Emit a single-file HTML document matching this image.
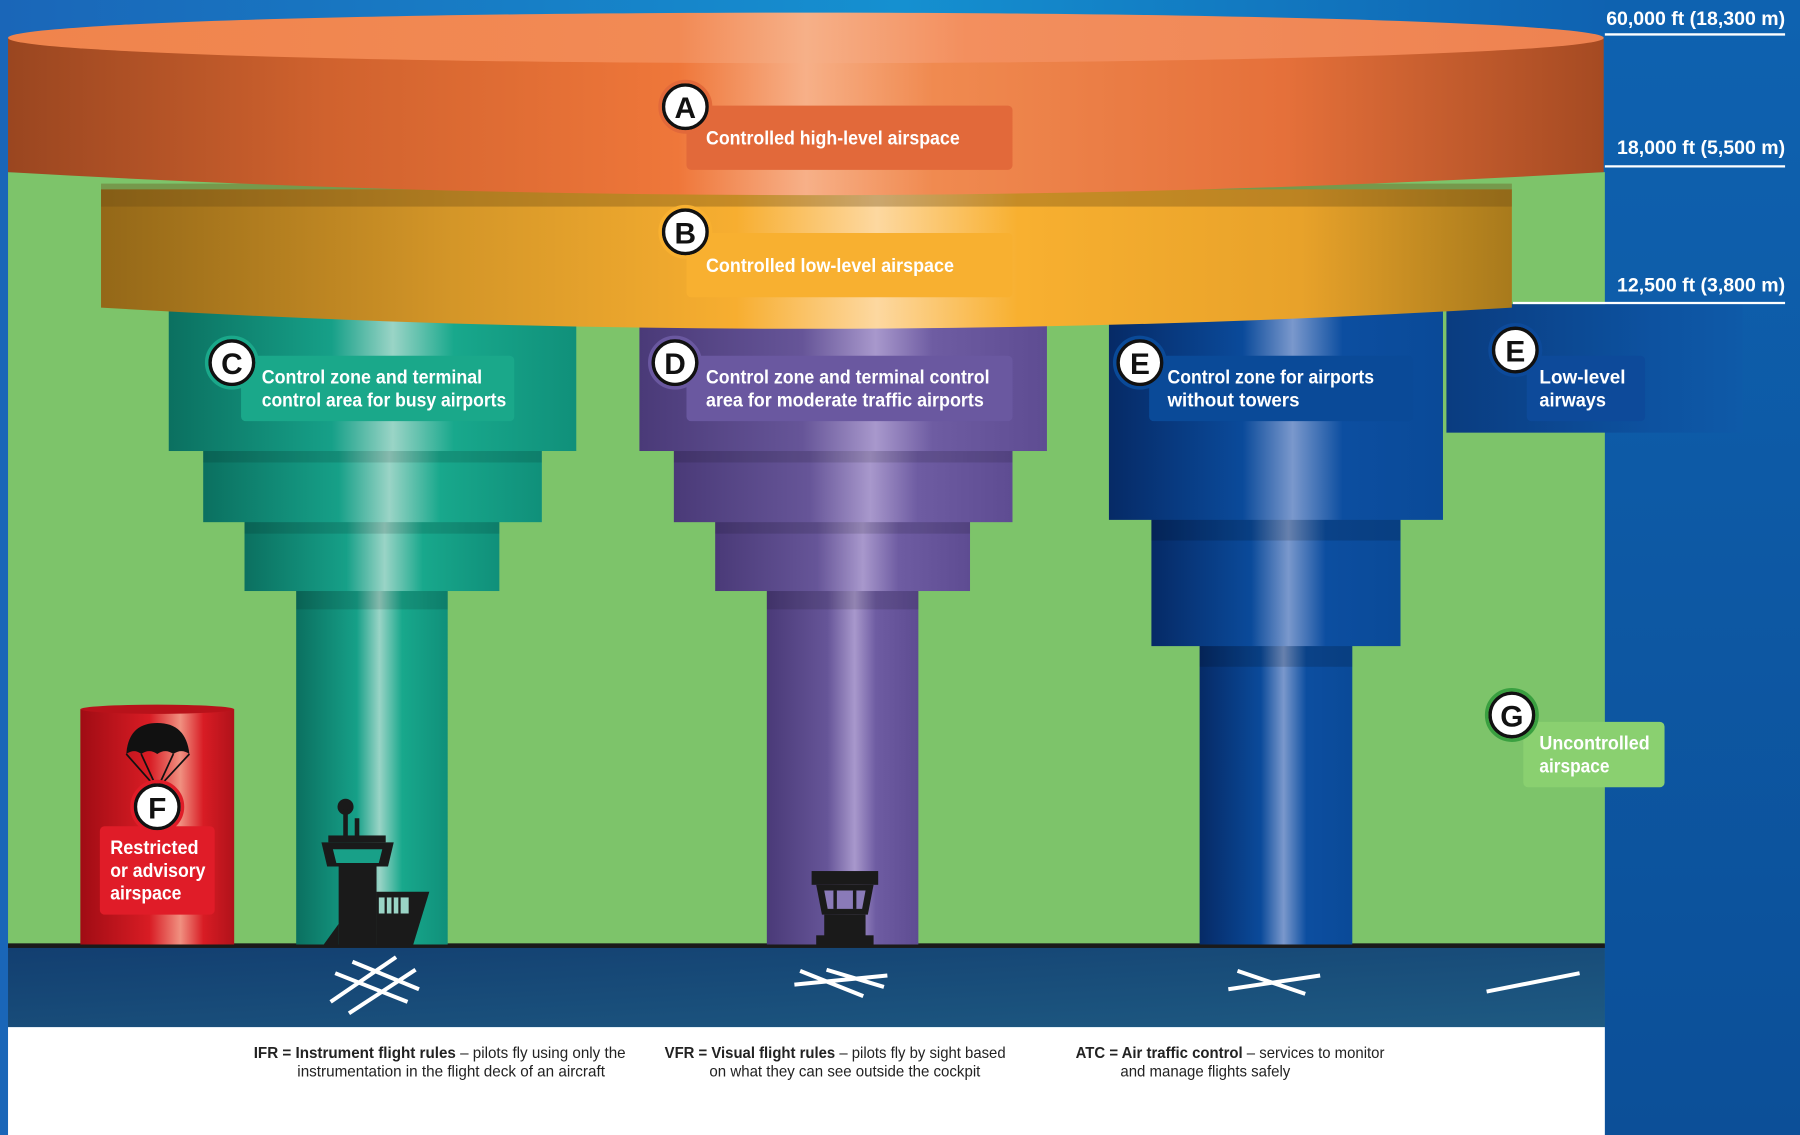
<!DOCTYPE html>
<html><head><meta charset="utf-8"><style>
html,body{margin:0;padding:0;background:#0d55a0;}
svg{display:block}
text{font-family:"Liberation Sans Narrow","Liberation Sans",sans-serif;}
.lb{fill:#fff;font-weight:bold;font-size:17px;}
.cl{font-weight:bold;font-size:26px;fill:#111;text-anchor:middle;}
.lg{font-size:13.5px;fill:#222;}
</style></head><body>
<svg width="1800" height="1135" viewBox="0 0 1568 989" preserveAspectRatio="none" xmlns="http://www.w3.org/2000/svg">
<defs>
<linearGradient id="bg" x1="0" y1="0" x2="1" y2="0"><stop offset="0" stop-color="#1a66b8"/><stop offset="0.5" stop-color="#1590d0"/><stop offset="1" stop-color="#0d55a8"/></linearGradient>
<linearGradient id="rc" x1="0" y1="0" x2="0" y2="1"><stop offset="0" stop-color="#0e62b0"/><stop offset="1" stop-color="#0c4f98"/></linearGradient>
<linearGradient id="oA" x1="0" y1="0" x2="1" y2="0"><stop offset="0" stop-color="#9a4620"/><stop offset="0.2" stop-color="#d0622e"/><stop offset="0.42" stop-color="#ef773a"/><stop offset="0.5" stop-color="#f7b088"/><stop offset="0.58" stop-color="#f08a50"/><stop offset="0.8" stop-color="#e5703a"/><stop offset="1" stop-color="#a54a22"/></linearGradient>
<linearGradient id="oAt" x1="0" y1="0" x2="1" y2="0"><stop offset="0" stop-color="#f0844c"/><stop offset="0.42" stop-color="#f28a55"/><stop offset="0.5" stop-color="#f6b088"/><stop offset="0.6" stop-color="#f38f5e"/><stop offset="1" stop-color="#ee8250"/></linearGradient>
<linearGradient id="yB" x1="0" y1="0" x2="1" y2="0"><stop offset="0" stop-color="#946818"/><stop offset="0.25" stop-color="#d49628"/><stop offset="0.45" stop-color="#f7ae30"/><stop offset="0.55" stop-color="#fdd8a0"/><stop offset="0.65" stop-color="#f8b030"/><stop offset="0.85" stop-color="#e8a22a"/><stop offset="1" stop-color="#a87a1c"/></linearGradient>
<linearGradient id="tC" x1="0" y1="0" x2="1" y2="0"><stop offset="0" stop-color="#0b7060"/><stop offset="0.4" stop-color="#16a088"/><stop offset="0.55" stop-color="#9ad4c6"/><stop offset="0.7" stop-color="#18a88c"/><stop offset="1" stop-color="#10907a"/></linearGradient>
<linearGradient id="pD" x1="0" y1="0" x2="1" y2="0"><stop offset="0" stop-color="#4a3a78"/><stop offset="0.4" stop-color="#665598"/><stop offset="0.58" stop-color="#a898cc"/><stop offset="0.72" stop-color="#6e5ca2"/><stop offset="1" stop-color="#5e4c92"/></linearGradient>
<linearGradient id="bE" x1="0" y1="0" x2="1" y2="0"><stop offset="0" stop-color="#062a66"/><stop offset="0.4" stop-color="#0a4a9a"/><stop offset="0.55" stop-color="#7a98cc"/><stop offset="0.7" stop-color="#0c4ea0"/><stop offset="1" stop-color="#0a4a98"/></linearGradient>
<linearGradient id="bL" x1="0" y1="0" x2="1" y2="0"><stop offset="0" stop-color="#0a3c80"/><stop offset="0.7" stop-color="#0d52a0"/><stop offset="1" stop-color="#0e5aa8"/></linearGradient>
<linearGradient id="rF" x1="0" y1="0" x2="1" y2="0"><stop offset="0" stop-color="#a00c14"/><stop offset="0.45" stop-color="#d81c24"/><stop offset="0.65" stop-color="#f09080"/><stop offset="0.8" stop-color="#d81c24"/><stop offset="1" stop-color="#b0121a"/></linearGradient>
<linearGradient id="gr" x1="0" y1="0" x2="1" y2="1"><stop offset="0" stop-color="#123e70"/><stop offset="1" stop-color="#1e5a82"/></linearGradient>
</defs>
<rect width="1568" height="989" fill="url(#bg)"/>
<rect x="1398" y="0" width="170" height="989" fill="url(#rc)"/>
<rect x="7" y="150" width="1391" height="673" fill="#7dc46a"/>
<rect x="7" y="823" width="1391" height="72" fill="url(#gr)"/>
<rect x="7" y="822" width="1391" height="4" fill="#1a1a1a"/>
<rect x="7" y="895" width="1391" height="94" fill="#fff"/>

<rect x="1260" y="265" width="258" height="112" fill="url(#bL)"/>
<g stroke="#fff" stroke-width="2"><line x1="1398" y1="30" x2="1555" y2="30"/><line x1="1398" y1="145" x2="1555" y2="145"/><line x1="1318" y1="264" x2="1555" y2="264"/></g>
<g class="lb" text-anchor="end" font-size="17"><text x="1555" y="22">60,000 ft (18,300 m)</text><text x="1555" y="134">18,000 ft (5,500 m)</text><text x="1555" y="254">12,500 ft (3,800 m)</text></g>

<g fill="url(#tC)"><rect x="258" y="510" width="132" height="313"/><rect x="213" y="450" width="222" height="65"/><rect x="177" y="390" width="295" height="65"/><rect x="147" y="270" width="355" height="123"/></g>
<g fill="#000" opacity="0.12"><rect x="177" y="393" width="295" height="10"/><rect x="213" y="455" width="222" height="10"/><rect x="258" y="515" width="132" height="16"/></g>
<g fill="url(#pD)"><rect x="668" y="510" width="132" height="313"/><rect x="623" y="450" width="222" height="65"/><rect x="587" y="390" width="295" height="65"/><rect x="557" y="270" width="355" height="123"/></g>
<g fill="#000" opacity="0.12"><rect x="587" y="393" width="295" height="10"/><rect x="623" y="455" width="222" height="10"/><rect x="668" y="515" width="132" height="16"/></g>
<g fill="url(#bE)"><rect x="1045" y="560" width="133" height="263"/><rect x="1003" y="450" width="217" height="113"/><rect x="966" y="265" width="291" height="188"/></g>
<g fill="#000" opacity="0.15"><rect x="1003" y="453" width="217" height="18"/><rect x="1045" y="563" width="133" height="18"/></g>

<path d="M88 165 L1317 165 L1317 268 Q702 305 88 268 Z" fill="url(#yB)"/>
<rect x="88" y="160" width="1229" height="20" fill="#6a4a14" opacity="0.35"/>
<path d="M7 33 L1397 33 L1397 150 Q702 190 7 150 Z" fill="url(#oA)"/>
<ellipse cx="702" cy="33" rx="695" ry="22" fill="url(#oAt)"/>

<rect x="70" y="618" width="134" height="205" fill="url(#rF)"/>
<ellipse cx="137" cy="618" rx="67" ry="4" fill="#b8121a"/>
<path d="M110 657 Q112 630 137 630 Q162 630 165 657 Q158 652 151 657 Q144 652 137 657 Q130 652 123 657 Q117 652 110 657Z" fill="#111"/>
<g stroke="#111" stroke-width="1.5" fill="none"><path d="M110 657 L133 683"/><path d="M123 657 L135 683"/><path d="M151 657 L139 683"/><path d="M165 657 L141 683"/></g>

<g fill="#1a1a1a">
<circle cx="301" cy="703" r="7"/><rect x="299" y="705" width="4" height="25"/><rect x="309" y="713" width="4" height="17"/>
<rect x="286" y="728" width="50" height="6"/>
<path d="M280 734 L343 734 L338 755 L285 755Z"/>
<rect x="295" y="755" width="33" height="68"/>
<path d="M328 777 L374 777 L360 823 L328 823Z"/>
<path d="M295 805 L282 823 L295 823Z"/>
<rect x="707" y="759" width="58" height="12"/>
<path d="M711 771 L761 771 L756 797 L716 797Z"/>
<rect x="718" y="797" width="36" height="20"/><rect x="711" y="815" width="50" height="8"/>
</g>
<path d="M290 740 L333 740 L330 752 L293 752Z" fill="#18a088"/>
<rect x="330" y="782" width="26" height="14" fill="#9ad4c6"/>
<g fill="#1a1a1a"><rect x="335" y="782" width="2" height="14"/><rect x="341" y="782" width="2" height="14"/><rect x="347" y="782" width="2" height="14"/></g>
<path d="M718 776 L754 776 L751 792 L721 792Z" fill="#8a7ab8"/>
<g fill="#1a1a1a"><rect x="726" y="776" width="3" height="16"/><rect x="743" y="776" width="3" height="16"/></g>

<g stroke="#fff" stroke-width="3.5" fill="none">
<path d="M288 873 L345 834"/><path d="M304 883 L362 845"/><path d="M292 848 L355 873"/><path d="M307 838 L365 862"/>
<path d="M692 858 L773 850"/><path d="M697 846 L752 868"/><path d="M720 845 L770 860"/>
<path d="M1070 862 L1150 850"/><path d="M1078 846 L1137 866"/>
<path d="M1295 864 L1376 848"/>
</g>

<rect x="598" y="92" width="284" height="56" rx="4" fill="#e2693a"/>
<rect x="598" y="203" width="284" height="56" rx="4" fill="#f8b030"/>
<rect x="210" y="310" width="238" height="57" rx="4" fill="#1aa88a"/>
<rect x="598" y="310" width="284" height="57" rx="4" fill="#6a58a0"/>
<rect x="1001" y="310" width="230" height="57" rx="4" fill="#0a4a98"/>
<rect x="1330" y="310" width="103" height="57" rx="4" fill="#0d4a9a"/>
<rect x="1327" y="629" width="123" height="57" rx="4" fill="#8ad070"/>
<rect x="87" y="720" width="100" height="77" rx="4" fill="#e01c28"/>

<g class="lb">
<text x="615" y="126" textLength="221" lengthAdjust="spacingAndGlyphs">Controlled high-level airspace</text>
<text x="615" y="237" textLength="216" lengthAdjust="spacingAndGlyphs">Controlled low-level airspace</text>
<text x="228" y="334" textLength="192" lengthAdjust="spacingAndGlyphs">Control zone and terminal</text>
<text x="228" y="354" textLength="213" lengthAdjust="spacingAndGlyphs">control area for busy airports</text>
<text x="615" y="334" textLength="247" lengthAdjust="spacingAndGlyphs">Control zone and terminal control</text>
<text x="615" y="354" textLength="242" lengthAdjust="spacingAndGlyphs">area for moderate traffic airports</text>
<text x="1017" y="334" textLength="180" lengthAdjust="spacingAndGlyphs">Control zone for airports</text>
<text x="1017" y="354" textLength="115" lengthAdjust="spacingAndGlyphs">without towers</text>
<text x="1341" y="334" textLength="75" lengthAdjust="spacingAndGlyphs">Low-level</text>
<text x="1341" y="354" textLength="58" lengthAdjust="spacingAndGlyphs">airways</text>
<text x="1341" y="653" textLength="96" lengthAdjust="spacingAndGlyphs">Uncontrolled</text>
<text x="1341" y="673" textLength="61" lengthAdjust="spacingAndGlyphs">airspace</text>
<text x="96" y="744" textLength="77" lengthAdjust="spacingAndGlyphs">Restricted</text>
<text x="96" y="764" textLength="83" lengthAdjust="spacingAndGlyphs">or advisory</text>
<text x="96" y="784" textLength="62" lengthAdjust="spacingAndGlyphs">airspace</text>
</g>

<g stroke-width="3">
<circle cx="597" cy="93" r="19" fill="#fff" stroke="#111"/><circle cx="597" cy="93" r="22" fill="none" stroke="#e2693a"/>
<circle cx="597" cy="202" r="19" fill="#fff" stroke="#111"/><circle cx="597" cy="202" r="22" fill="none" stroke="#f8b030"/>
<circle cx="202" cy="316" r="19" fill="#fff" stroke="#111"/><circle cx="202" cy="316" r="22" fill="none" stroke="#1aa88a"/>
<circle cx="588" cy="316" r="19" fill="#fff" stroke="#111"/><circle cx="588" cy="316" r="22" fill="none" stroke="#6a58a0"/>
<circle cx="993" cy="316" r="19" fill="#fff" stroke="#111"/><circle cx="993" cy="316" r="22" fill="none" stroke="#0a4a98"/>
<circle cx="1320" cy="305" r="19" fill="#fff" stroke="#111"/><circle cx="1320" cy="305" r="22" fill="none" stroke="#0d4a9a"/>
<circle cx="1317" cy="623" r="19" fill="#fff" stroke="#111"/><circle cx="1317" cy="623" r="22" fill="none" stroke="#3aa040"/>
<circle cx="137" cy="703" r="19" fill="#fff" stroke="#111"/><circle cx="137" cy="703" r="22" fill="none" stroke="#e01c28"/>
</g>
<g class="cl">
<text x="597" y="103">A</text><text x="597" y="212">B</text><text x="202" y="326">C</text><text x="588" y="326">D</text><text x="993" y="326">E</text><text x="1320" y="315">E</text><text x="1317" y="633">G</text><text x="137" y="713">F</text>
</g>

<g class="lg">
<text x="221" y="922" textLength="324" lengthAdjust="spacingAndGlyphs"><tspan font-weight="bold">IFR  =  Instrument flight rules</tspan> – pilots fly using only the</text>
<text x="259" y="938" textLength="268" lengthAdjust="spacingAndGlyphs">instrumentation in the flight deck of an aircraft</text>
<text x="579" y="922" textLength="297" lengthAdjust="spacingAndGlyphs"><tspan font-weight="bold">VFR =  Visual flight rules</tspan> – pilots fly by sight based</text>
<text x="618" y="938" textLength="236" lengthAdjust="spacingAndGlyphs">on what they can see outside the cockpit</text>
<text x="937" y="922" textLength="269" lengthAdjust="spacingAndGlyphs"><tspan font-weight="bold">ATC  =  Air traffic control</tspan> – services to monitor</text>
<text x="976" y="938" textLength="148" lengthAdjust="spacingAndGlyphs">and manage flights safely</text>
</g>
</svg>
</body></html>
